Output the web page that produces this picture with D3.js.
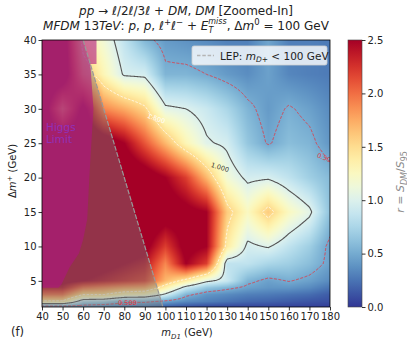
<!DOCTYPE html>
<html>
<head>
<meta charset="utf-8">
<script src="https://cdn.jsdelivr.net/npm/d3@7"></script>
<style>
body { margin: 0; background: #fff; }
text { font-family: "DejaVu Sans", sans-serif; }
</style>
</head>
<body>
<script>
const width = 407;
const height = 347;

// grid of the scan: m_D1 (GeV) and Δm+ (GeV)
const mD1 = [40, 50, 60, 70, 80, 90, 100, 110, 120, 130, 140, 150, 160, 170, 180];
const dmPlus = [1.2, 2, 3, 4, 5, 7.5, 10, 15, 20, 25, 30, 35, 40];

// r = S_DM / S_95, one row per dmPlus value (bottom to top)
const rValues = [
    [0.30, 0.30, 0.35, 0.30, 0.28, 0.25, 0.15, 0.10, 0.06, 0.05, 0.05, 0.05, 0.04, 0.04, 0.03],
    [1.45, 1.45, 0.80, 0.75, 0.55, 0.55, 0.45, 0.35, 0.30, 0.25, 0.20, 0.18, 0.15, 0.12, 0.10],
    [2.00, 2.00, 1.50, 1.50, 1.30, 1.25, 0.95, 0.55, 0.40, 0.35, 0.30, 0.28, 0.25, 0.22, 0.15],
    [2.40, 2.40, 2.00, 1.90, 1.80, 1.75, 1.35, 0.90, 0.65, 0.55, 0.45, 0.40, 0.40, 0.35, 0.25],
    [2.60, 2.60, 2.50, 2.40, 2.30, 2.20, 1.70, 1.40, 1.05, 0.90, 0.55, 0.45, 0.51, 0.45, 0.35],
    [2.80, 2.80, 2.70, 2.60, 2.50, 2.40, 1.90, 2.50, 2.20, 0.85, 0.85, 0.75, 0.70, 0.60, 0.45],
    [2.80, 2.80, 2.80, 2.80, 2.70, 2.60, 2.20, 2.60, 2.50, 1.40, 0.95, 1.02, 0.85, 0.70, 0.45],
    [2.80, 2.80, 2.80, 2.80, 2.80, 2.80, 2.70, 2.60, 2.50, 1.60, 1.25, 1.60, 1.25, 1.05, 0.62],
    [2.80, 2.80, 2.80, 2.80, 2.80, 2.70, 2.50, 2.20, 1.70, 1.15, 0.95, 0.97, 0.85, 0.70, 0.58],
    [2.80, 2.80, 2.80, 2.70, 2.50, 2.10, 1.70, 1.30, 1.03, 0.95, 0.65, 0.48, 0.60, 0.55, 0.40],
    [2.80, 1.80, 2.60, 1.90, 1.75, 1.55, 1.05, 1.00, 0.90, 0.75, 0.55, 0.42, 0.52, 0.45, 0.35],
    [2.80, 2.80, 1.70, 1.30, 0.97, 0.95, 0.55, 0.55, 0.50, 0.42, 0.36, 0.45, 0.33, 0.30, 0.28],
    [2.80, 2.80, 1.35, 1.15, 0.85, 0.56, 0.42, 0.38, 0.35, 0.30, 0.30, 0.47, 0.30, 0.30, 0.28]
];

const xTicks = [40, 50, 60, 70, 80, 90, 100, 110, 120, 130, 140, 150, 160, 170, 180];
const yTicks = [5, 10, 15, 20, 25, 30, 35, 40];
const cbTicks = [0, 0.5, 1, 1.5, 2, 2.5];
const levels = [0.5, 1.0, 1.5];

// excluded regions
const lepX = [40, 60, 98.8, 40];
const lepY = [40, 40, 1.2, 1.2];
const higgsX = [40, 66.5, 66.5, 63.5, 65, 63, 62, 60, 58, 53.5, 49.5, 48, 40];
const higgsY = [40, 40, 36.5, 36.5, 30, 20, 14, 11, 9, 7, 4.5, 4, 4];

// contour labels
const cLabels = [
    {text: "1.000", m: 126.5, d: 21.5, rot: 17, color: "#333"},
    {text: "1.500", m: 95.5, d: 28.6, rot: 20, color: "#fff"},
    {text: "0.500", m: 81.5, d: 1.85, rot: 0, color: "#e03a45"},
    {text: "0.500", m: 178, d: 22.8, rot: 22, color: "#e03a45"}
];

const x0 = 42, x1 = 330, y0 = 40, y1 = 307;
const W = x1 - x0, H = y1 - y0;

let x = d3.scaleLinear().domain([40, 180]).range([x0, x1]);
let y = d3.scaleLinear().domain([1.2, 40]).range([y1, y0]);
let cScale = d3.scaleLinear().domain([0, 2.5]).range([y1, y0]);
let color = v => d3.interpolateRdYlBu(1 - Math.max(0, Math.min(1, v / 2.5)));

function rAt(m, d) {
    m = Math.max(40, Math.min(180, m));
    d = Math.max(1.2, Math.min(40, d));
    let i = Math.min(mD1.length - 2, d3.bisectRight(mD1, m) - 1);
    let j = Math.min(dmPlus.length - 2, d3.bisectRight(dmPlus, d) - 1);
    let tx = (m - mD1[i]) / (mD1[i + 1] - mD1[i]);
    let ty = (d - dmPlus[j]) / (dmPlus[j + 1] - dmPlus[j]);
    let a = rValues[j][i], b = rValues[j][i + 1], c = rValues[j + 1][i], e = rValues[j + 1][i + 1];
    return a * (1 - tx) * (1 - ty) + b * tx * (1 - ty) + c * (1 - tx) * ty + e * tx * ty;
}

let svg = d3.select("body").append("svg")
    .attr("width", width)
    .attr("height", height);

svg.append("defs").append("clipPath").attr("id", "plot")
    .append("rect").attr("x", x0).attr("y", y0).attr("width", W).attr("height", H);

// heatmap raster
let canvas = document.createElement("canvas");
canvas.width = W;
canvas.height = H;
let ctx = canvas.getContext("2d");
let img = ctx.createImageData(W, H);
for (let j = 0; j < H; j++) {
    for (let i = 0; i < W; i++) {
        let c = d3.rgb(color(rAt(x.invert(x0 + i + 0.5), y.invert(y0 + j + 0.5))));
        let k = (j * W + i) * 4;
        img.data[k] = c.r; img.data[k + 1] = c.g; img.data[k + 2] = c.b; img.data[k + 3] = 255;
    }
}
ctx.putImageData(img, 0, 0);

let plot = svg.append("g").attr("clip-path", "url(#plot)");
plot.append("image")
    .attr("x", x0).attr("y", y0).attr("width", W).attr("height", H)
    .attr("preserveAspectRatio", "none")
    .attr("href", canvas.toDataURL());

// contours, sampled one pixel beyond the frame so the edges fall outside the clip
let gw = W + 2, gh = H + 2;
let grid = new Float64Array(gw * gh);
for (let j = 0; j < gh; j++) {
    for (let i = 0; i < gw; i++) {
        grid[j * gw + i] = rAt(x.invert(x0 - 1 + i + 0.5), y.invert(y0 - 1 + j + 0.5));
    }
}
let contours = d3.contours().size([gw, gh]).thresholds(levels)(grid);
let lineStyle = {
    0.5: {stroke: "#e03a45", dash: "3,1.5", w: 0.9},
    1: {stroke: "#555", dash: null, w: 1.1},
    1.5: {stroke: "#fff", dash: "2.5,1.5", w: 0.8}
};
plot.append("g")
    .attr("transform", `translate(${x0 - 1},${y0 - 1})`)
    .selectAll("path")
    .data(contours)
    .enter()
    .append("path")
    .attr("d", d3.geoPath())
    .attr("fill", "none")
    .attr("stroke", d => lineStyle[d.value].stroke)
    .attr("stroke-width", d => lineStyle[d.value].w)
    .attr("stroke-dasharray", d => lineStyle[d.value].dash);

// LEP and Higgs shading
let poly = (xs, ys) => xs.map((v, i) => [x(v), y(ys[i])].join(",")).join(" ");
plot.append("polygon")
    .attr("points", poly(lepX, lepY))
    .attr("fill", "#7a7a7a")
    .attr("fill-opacity", 0.42);
plot.append("polygon")
    .attr("points", poly(higgsX, higgsY))
    .attr("fill", "rgb(175,20,130)")
    .attr("fill-opacity", 0.6);
plot.append("line")
    .attr("x1", x(lepX[1])).attr("y1", y(lepY[1]))
    .attr("x2", x(lepX[2])).attr("y2", y(lepY[2]))
    .attr("stroke", "#999")
    .attr("stroke-width", 1.2)
    .attr("stroke-dasharray", "5,1.5");

// contour labels
plot.selectAll(".clab")
    .data(cLabels)
    .enter()
    .append("text")
    .attr("class", "clab")
    .attr("transform", d => `translate(${x(d.m)},${y(d.d)}) rotate(${d.rot})`)
    .attr("text-anchor", "middle")
    .attr("dy", "0.35em")
    .attr("font-size", 6.5)
    .attr("fill", d => d.color)
    .text(d => d.text);

let higgsText = svg.append("text")
    .attr("x", 46)
    .attr("y", 131)
    .attr("font-size", 10.5)
    .attr("fill", "#9030b8");
higgsText.append("tspan").attr("x", 46).text("Higgs");
higgsText.append("tspan").attr("x", 46).attr("dy", 12).text("Limit");

// legend
let legend = svg.append("g");
legend.append("rect")
    .attr("x", 192).attr("y", 46).attr("width", 135).attr("height", 19).attr("rx", 2)
    .attr("fill", "#fff").attr("fill-opacity", 0.8)
    .attr("stroke", "#d0d0d0").attr("stroke-width", 0.8);
legend.append("line")
    .attr("x1", 197).attr("x2", 214).attr("y1", 55.5).attr("y2", 55.5)
    .attr("stroke", "#b5b5b5").attr("stroke-width", 1.4).attr("stroke-dasharray", "3.5,1.8");
let lt = legend.append("text").attr("x", 220).attr("y", 59.5).attr("font-size", 10.5).attr("fill", "#222");
lt.append("tspan").text("LEP: ");
lt.append("tspan").attr("font-style", "italic").text("m");
lt.append("tspan").attr("font-size", 7.5).attr("dy", 2.5).attr("font-style", "italic").text("D+");
lt.append("tspan").attr("dy", -2.5).text(" < 100 GeV");

// frame and axes
svg.append("rect")
    .attr("x", x0).attr("y", y0).attr("width", W).attr("height", H)
    .attr("fill", "none").attr("stroke", "#000").attr("stroke-width", 0.8);

let xAxis = svg.append("g")
    .attr("transform", `translate(0,${y1})`)
    .call(d3.axisBottom(x).tickValues(xTicks).tickSize(3.5).tickPadding(2));
let yAxis = svg.append("g")
    .attr("transform", `translate(${x0},0)`)
    .call(d3.axisLeft(y).tickValues(yTicks).tickSize(3.5).tickPadding(2));
[xAxis, yAxis].forEach(a => {
    a.select(".domain").remove();
    a.selectAll("text").attr("font-size", 10).attr("font-family", "DejaVu Sans").attr("fill", "#222");
    a.selectAll("line").attr("stroke-width", 0.8);
});

let xl = svg.append("text").attr("x", 187).attr("y", 336).attr("text-anchor", "middle").attr("font-size", 10).attr("fill", "#222");
xl.append("tspan").attr("font-style", "italic").text("m");
xl.append("tspan").attr("font-size", 7).attr("dy", 2.5).attr("font-style", "italic").text("D1");
xl.append("tspan").attr("dy", -2.5).text(" (GeV)");

let yl = svg.append("text").attr("transform", "translate(16,171) rotate(-90)")
    .attr("text-anchor", "middle").attr("font-size", 10).attr("fill", "#222");
yl.append("tspan").text("Δ");
yl.append("tspan").attr("font-style", "italic").text("m");
yl.append("tspan").attr("font-size", 7).attr("dy", -4).text("+");
yl.append("tspan").attr("dy", 4).text("  (GeV)");

svg.append("text").attr("x", 11).attr("y", 336).attr("font-size", 11.5).attr("fill", "#222").text("(f)");

// titles
let t1 = svg.append("text").attr("x", 186).attr("y", 15).attr("text-anchor", "middle").attr("font-size", 12).attr("fill", "#222");
[["pp", 1], [" → ", 0], ["ℓ", 1], ["/2", 0], ["ℓ", 1], ["/3", 0], ["ℓ", 1], [" + ", 0], ["DM", 1], [", ", 0], ["DM", 1], [" [Zoomed-In]", 0]]
    .forEach(p => t1.append("tspan").attr("font-style", p[1] ? "italic" : "normal").text(p[0]));

let t2 = svg.append("text").attr("x", 186).attr("y", 30).attr("text-anchor", "middle").attr("font-size", 12).attr("fill", "#222");
t2.append("tspan").attr("font-style", "italic").text("MFDM");
t2.append("tspan").text(" 13");
t2.append("tspan").attr("font-style", "italic").text("TeV");
t2.append("tspan").text(":  ");
t2.append("tspan").attr("font-style", "italic").text("p");
t2.append("tspan").text(", ");
t2.append("tspan").attr("font-style", "italic").text("p");
t2.append("tspan").text(", ");
t2.append("tspan").attr("font-style", "italic").text("ℓ");
t2.append("tspan").attr("font-size", 8.5).attr("dy", -5).text("+");
t2.append("tspan").attr("font-style", "italic").attr("dy", 5).text("ℓ");
t2.append("tspan").attr("font-size", 8.5).attr("dy", -5).text("−");
t2.append("tspan").attr("dy", 5).text(" + ");
t2.append("tspan").attr("font-style", "italic").text("E");
t2.append("tspan").attr("font-style", "italic").attr("font-size", 8).attr("dy", 3).text("T");
t2.append("tspan").attr("font-style", "italic").attr("font-size", 8).attr("dx", -5).attr("dy", -9).text("miss");
t2.append("tspan").attr("dy", 6).text(", Δ");
t2.append("tspan").attr("font-style", "italic").text("m");
t2.append("tspan").attr("font-size", 8.5).attr("dy", -5).text("0");
t2.append("tspan").attr("dy", 5).text(" = 100 GeV");

// colorbar
let grad = svg.select("defs").append("linearGradient")
    .attr("id", "cbar").attr("x1", 0).attr("y1", 1).attr("x2", 0).attr("y2", 0);
d3.range(0, 1.0001, 0.05).forEach(t => grad.append("stop").attr("offset", t).attr("stop-color", color(t * 2.5)));
svg.append("rect")
    .attr("x", 348).attr("y", y0).attr("width", 14).attr("height", H)
    .attr("fill", "url(#cbar)").attr("stroke", "#444").attr("stroke-width", 0.6);
let cAxis = svg.append("g")
    .attr("transform", "translate(362,0)")
    .call(d3.axisRight(cScale).tickValues(cbTicks).tickFormat(d3.format(".1f")).tickSize(3.5).tickPadding(2));
cAxis.select(".domain").remove();
cAxis.selectAll("text").attr("font-size", 10).attr("font-family", "DejaVu Sans").attr("fill", "#222");
cAxis.selectAll("line").attr("stroke-width", 0.8);

let cl = svg.append("text").attr("transform", "translate(404,182) rotate(-90)")
    .attr("text-anchor", "middle").attr("font-size", 11).attr("fill", "#8a8a8a");
cl.append("tspan").attr("font-style", "italic").text("r");
cl.append("tspan").text(" = ");
cl.append("tspan").attr("font-style", "italic").text("S");
cl.append("tspan").attr("font-style", "italic").attr("font-size", 8).attr("dy", 2.5).text("DM");
cl.append("tspan").attr("dy", -2.5).text("/");
cl.append("tspan").attr("font-style", "italic").text("S");
cl.append("tspan").attr("font-size", 8).attr("dy", 2.5).text("95");
</script>
</body>
</html>
